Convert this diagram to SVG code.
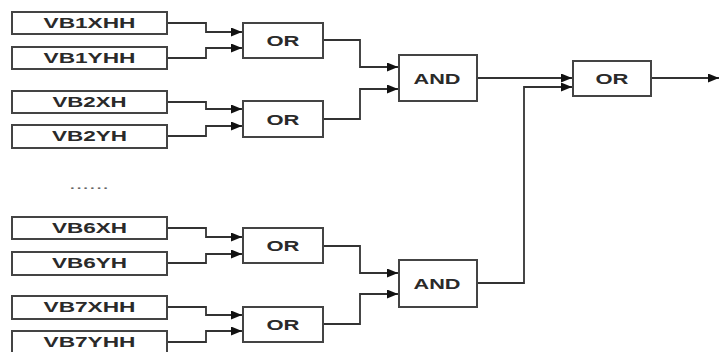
<svg xmlns="http://www.w3.org/2000/svg" width="720" height="352" viewBox="0 0 720 352">
<style>
.box{fill:#fff;stroke:#444;stroke-width:2}
.t{font-family:"Liberation Sans",Arial,sans-serif;font-weight:bold;font-size:14px;fill:#2a2a2a;text-anchor:middle}
.w{fill:none;stroke:#333;stroke-width:1.8}
</style>
<defs>
<marker id="ah" markerUnits="userSpaceOnUse" markerWidth="12" markerHeight="10" refX="11" refY="4.5" orient="auto">
<path d="M0,0 L11,4.5 L0,9 z" fill="#111"/>
</marker>
</defs>
<rect width="720" height="352" fill="#fff"/>
<g id="connectors">
<path class="w" d="M167,23 H206 V32 H242" marker-end="url(#ah)"/>
<path class="w" d="M167,58 H206 V48 H242" marker-end="url(#ah)"/>
<path class="w" d="M167,102 H206 V109 H242" marker-end="url(#ah)"/>
<path class="w" d="M167,136 H206 V126 H242" marker-end="url(#ah)"/>
<path class="w" d="M167,228 H206 V237 H242" marker-end="url(#ah)"/>
<path class="w" d="M167,263 H206 V254 H242" marker-end="url(#ah)"/>
<path class="w" d="M167,307 H206 V315 H242" marker-end="url(#ah)"/>
<path class="w" d="M167,342 H206 V331 H242" marker-end="url(#ah)"/>
<path class="w" d="M323,40 H360 V67 H398" marker-end="url(#ah)"/>
<path class="w" d="M323,119 H360 V89 H398" marker-end="url(#ah)"/>
<path class="w" d="M323,246 H360 V273 H398" marker-end="url(#ah)"/>
<path class="w" d="M323,324 H360 V294 H398" marker-end="url(#ah)"/>
<path class="w" d="M477,78 H572" marker-end="url(#ah)"/>
<path class="w" d="M477,283 H524 V87 H572" marker-end="url(#ah)"/>
<path class="w" d="M651,78 H719" marker-end="url(#ah)"/>
</g>
<g id="vb1xhh"><rect class="box" x="12" y="12" width="155" height="22"/><text class="t" x="89.5" y="28" textLength="92" lengthAdjust="spacingAndGlyphs">VB1XHH</text></g>
<g id="vb1yhh"><rect class="box" x="12" y="47" width="155" height="22"/><text class="t" x="89.5" y="63" textLength="92" lengthAdjust="spacingAndGlyphs">VB1YHH</text></g>
<g id="vb2xh"><rect class="box" x="12" y="91" width="155" height="22"/><text class="t" x="89.5" y="107" textLength="74" lengthAdjust="spacingAndGlyphs">VB2XH</text></g>
<g id="vb2yh"><rect class="box" x="12" y="125" width="155" height="23"/><text class="t" x="89.5" y="141" textLength="75" lengthAdjust="spacingAndGlyphs">VB2YH</text></g>
<g id="dots"><text class="t" x="89" y="189" font-weight="normal" style="font-weight:normal;fill:#666" textLength="40" lengthAdjust="spacingAndGlyphs">......</text></g>
<g id="vb6xh"><rect class="box" x="12" y="217" width="155" height="22"/><text class="t" x="89.5" y="233" textLength="75" lengthAdjust="spacingAndGlyphs">VB6XH</text></g>
<g id="vb6yh"><rect class="box" x="12" y="252" width="155" height="23"/><text class="t" x="89.5" y="268" textLength="75" lengthAdjust="spacingAndGlyphs">VB6YH</text></g>
<g id="vb7xhh"><rect class="box" x="12" y="296" width="155" height="23"/><text class="t" x="89.5" y="312" textLength="92" lengthAdjust="spacingAndGlyphs">VB7XHH</text></g>
<g id="vb7yhh"><rect class="box" x="12" y="331" width="155" height="23"/><text class="t" x="89.5" y="347" textLength="92" lengthAdjust="spacingAndGlyphs">VB7YHH</text></g>
<g id="or1"><rect class="box" x="243" y="23" width="80" height="35"/><text class="t" x="283" y="46" textLength="33" lengthAdjust="spacingAndGlyphs">OR</text></g>
<g id="or2"><rect class="box" x="243" y="101" width="80" height="36"/><text class="t" x="283" y="125" textLength="33" lengthAdjust="spacingAndGlyphs">OR</text></g>
<g id="or3"><rect class="box" x="243" y="228" width="80" height="35"/><text class="t" x="283" y="251" textLength="33" lengthAdjust="spacingAndGlyphs">OR</text></g>
<g id="or4"><rect class="box" x="243" y="307" width="80" height="35"/><text class="t" x="283" y="330" textLength="33" lengthAdjust="spacingAndGlyphs">OR</text></g>
<g id="and1"><rect class="box" x="399" y="55" width="78" height="46"/><text class="t" x="437" y="84" textLength="47" lengthAdjust="spacingAndGlyphs">AND</text></g>
<g id="and2"><rect class="box" x="399" y="260" width="78" height="47"/><text class="t" x="437" y="289" textLength="47" lengthAdjust="spacingAndGlyphs">AND</text></g>
<g id="or5"><rect class="box" x="573" y="61" width="78" height="35"/><text class="t" x="612" y="84" textLength="33" lengthAdjust="spacingAndGlyphs">OR</text></g>
</svg>
